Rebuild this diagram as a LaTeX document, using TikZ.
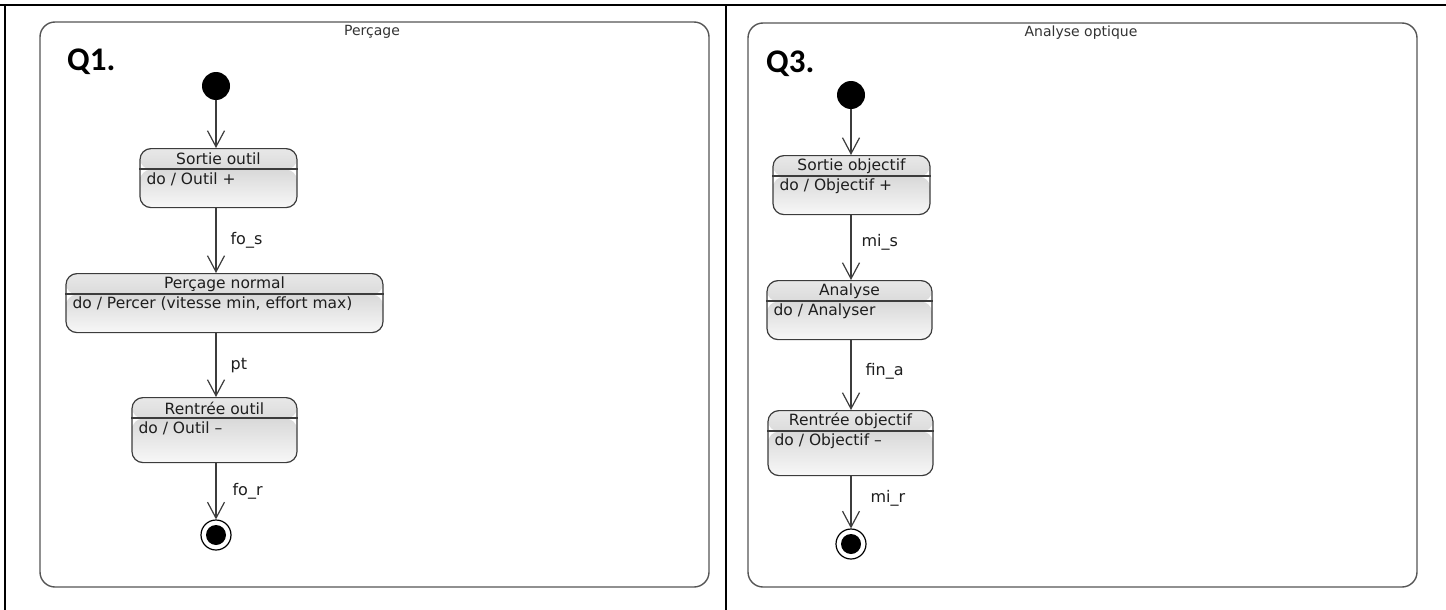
\documentclass[tikz,border=0pt]{standalone}
\usepackage{fontspec}
\setmainfont{DejaVu Sans}
\newfontfamily\qfont{Carlito}
\usetikzlibrary{arrows.meta,calc}
\definecolor{lineg}{HTML}{3C3C3C}
\definecolor{frameg}{HTML}{555555}
\definecolor{txt}{HTML}{1E1E1E}
\tikzset{
  tablerule/.style={draw=black, line width=2pt},
  frame/.style={draw=frameg, line width=1.4pt, rounded corners=15pt},
  statebox/.style={draw=lineg, line width=1.2pt, rounded corners=11pt, anchor=north, inner sep=0pt,
    path picture={
      \shade[top color=black!9, bottom color=black!24]
        (path picture bounding box.north west) rectangle ([yshift=-21pt]path picture bounding box.north east);
      \shade[top color=black!15, bottom color=black!3]
        ([yshift=-21pt]path picture bounding box.north west) rectangle (path picture bounding box.south east);
    }},
  divider/.style={draw=lineg, line width=1.2pt},
  stext/.style={text=txt, inner sep=0pt, font=\fontsize{15.5}{17}\selectfont},
  lbl/.style={text=txt, inner sep=0pt, anchor=west, font=\fontsize{16}{18}\selectfont},
  titletext/.style={text=black!80, inner sep=0pt, font=\fontsize{14}{16}\selectfont},
  qlbl/.style={inner sep=0pt, anchor=west, font=\qfont\bfseries\fontsize{33}{36}\selectfont},
  initstate/.style={circle, fill=black, minimum size=28pt, inner sep=0pt},
  finalstate/.style={circle, draw=black, line width=1.2pt, fill=white, minimum size=30pt, inner sep=0pt},
  trans/.style={draw=lineg, line width=1.2pt, -{Straight Barb[length=16pt, width=17pt, line width=1.2pt]}},
}
\newcommand{\umlstate}[7]{%
  \node[statebox, minimum width=#4pt, minimum height=#5pt] (#1) at (#2,#3) {};
  \draw[divider] ([yshift=-21pt]#1.north west) -- ([yshift=-21pt]#1.north east);
  \node[stext] (#1h) at ([yshift=-11pt]#1.north) {#6};
  \node[stext, anchor=west] (#1b) at ([xshift=7pt,yshift=-31pt]#1.north west) {#7};
}
\begin{document}
\begin{tikzpicture}[x=1pt,y=-1pt]
\useasboundingbox (0,0) rectangle (1446,610);
% table rules
\draw[tablerule] (0,5) -- (1446,5);
\draw[tablerule] (5,5) -- (5,610);
\draw[tablerule] (726,5) -- (726,610);
% frames
\draw[frame] (40,22) rectangle (709,587);
\draw[frame] (748,23) rectangle (1417,587);
\node[titletext] (t1) at (372,32) {Perçage};
\node[titletext] (t2) at (1081,33) {Analyse optique};
\node[qlbl] (q1) at (67,62) {Q1.};
\node[qlbl] (q3) at (766,64) {Q3.};
% left diagram
\node[initstate] (i1) at (216,86) {};
\umlstate{s1}{218.5}{148}{157}{59}{Sortie outil}{do / Outil +}
\umlstate{p1}{224.5}{273}{317}{59}{Perçage normal}{do / Percer (vitesse min, effort max)}
\umlstate{r1}{214.5}{397}{165}{65}{Rentrée outil}{do / Outil –}
\node[finalstate] (f1) at (216,535) {};
\fill[black] (f1) circle (10pt);
\draw[trans] (i1) -- (i1 |- s1.north);
\draw[trans] (i1 |- s1.south) -- (i1 |- p1.north) node[lbl, pos=0.5, xshift=14pt] (l1) {fo\_s};
\draw[trans] (i1 |- p1.south) -- (i1 |- r1.north) node[lbl, pos=0.5, xshift=14pt] (l2) {pt};
\draw[trans] (i1 |- r1.south) -- (f1.north) node[lbl, pos=0.5, xshift=16pt] (l3) {fo\_r};
% right diagram
\node[initstate] (i2) at (851,95) {};
\umlstate{s2}{851.5}{155}{157}{59}{Sortie objectif}{do / Objectif +}
\umlstate{a2}{849.5}{280}{165}{59}{Analyse}{do / Analyser}
\umlstate{r2}{850.5}{410}{165}{65}{Rentrée objectif}{do / Objectif –}
\node[finalstate] (f2) at (851,544) {};
\fill[black] (f2) circle (10pt);
\draw[trans] (i2) -- (i2 |- s2.north);
\draw[trans] (i2 |- s2.south) -- (i2 |- a2.north) node[lbl, pos=0.42, xshift=10pt] (l4) {mi\_s};
\draw[trans] (i2 |- a2.south) -- (i2 |- r2.north) node[lbl, pos=0.44, xshift=14pt] (l5) {fin\_a};
\draw[trans] (i2 |- r2.south) -- (f2.north) node[lbl, pos=0.42, xshift=19pt] (l6) {mi\_r};
\end{tikzpicture}
\end{document}
